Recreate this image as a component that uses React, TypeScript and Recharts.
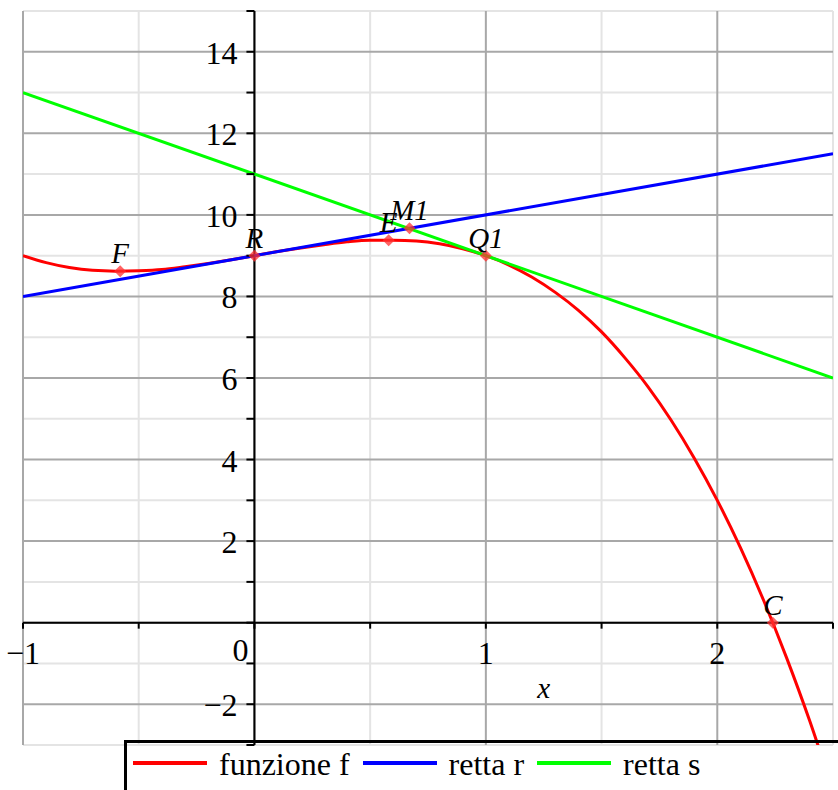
import React from 'react';
import { ComposedChart, Line, Scatter, XAxis, YAxis, ReferenceLine, ReferenceDot, LabelList } from 'recharts';

// funzione f
const curveX = [-1, -0.9, -0.8, -0.7, -0.6, -0.5, -0.4, -0.3, -0.2, -0.1, 0, 0.1, 0.2, 0.3, 0.4, 0.5, 0.6, 0.7, 0.8, 0.9, 1, 1.1, 1.2, 1.3, 1.4, 1.5, 1.6, 1.7, 1.8, 1.9, 2, 2.1, 2.2, 2.3, 2.4, 2.5];
const curveF = [9, 8.83, 8.71, 8.64, 8.62, 8.63, 8.66, 8.73, 8.81, 8.9, 9, 9.1, 9.19, 9.27, 9.34, 9.38, 9.38, 9.36, 9.29, 9.17, 9, 8.77, 8.47, 8.1, 7.66, 7.13, 6.5, 5.79, 4.97, 4.04, 3, 1.84, 0.55, -0.87, -2.42, -4.13];

// retta r and retta s (end points)
const rettaRX = [-1, 2.5];
const rettaRY = [8, 11.5];
const rettaSX = [-1, 2.5];
const rettaSY = [13, 6];

// marked points
const pointNames = ['F', 'R', 'E', 'M1', 'Q1', 'C'];
const pointX = [-0.58, 0, 0.58, 0.67, 1, 2.24];
const pointY = [8.62, 9, 9.38, 9.67, 9, 0];

// grid + ticks
const xMajor = [-1, 0, 1, 2];
const xMinor = [-0.5, 0.5, 1.5, 2.5];
const yMajor = [-2, 0, 2, 4, 6, 8, 10, 12, 14];
const yMinor = [-3, -1, 1, 3, 5, 7, 9, 11, 13, 15];
const xTickLabels = ['\u22121', '0', '1', '2'];
const yTickLabels = ['\u22122', '', '2', '4', '6', '8', '10', '12', '14'];

const seriesNames = ['funzione f', 'retta r', 'retta s'];
const seriesColors = ['#ff0000', '#0000ff', '#00ff00'];

const SERIF = "'Liberation Serif', 'DejaVu Serif', serif";

const curveData = curveX.map((x, i) => ({ x, y: curveF[i] }));
const rData = rettaRX.map((x, i) => ({ x, y: rettaRY[i] }));
const sData = rettaSX.map((x, i) => ({ x, y: rettaSY[i] }));
const pointData = pointX.map((x, i) => ({ x, y: pointY[i], name: pointNames[i] }));

const Diamond = (props: any) => {
  const { cx, cy } = props;
  if (cx == null || cy == null) return null;
  const s = 6;
  return (
    <polygon
      points={`${cx},${cy - s} ${cx + s},${cy} ${cx},${cy + s} ${cx - s},${cy}`}
      fill="#ff3030"
      fillOpacity={0.75}
    />
  );
};

const PointLabel = (props: any) => {
  const { x, y, width, height, value } = props;
  const cx = x + (width || 0) / 2;
  const cy = y + (height || 0) / 2;
  return (
    <text x={cx} y={cy - 8} textAnchor="middle" style={{ fontFamily: SERIF, fontStyle: 'italic', fontSize: 29 }} fill="#000">
      {value}
    </text>
  );
};

const yTickShape = (label: string) => (props: any) => {
  const { cx, cy } = props;
  return (
    <g>
      <line x1={cx - 8} x2={cx} y1={cy} y2={cy} stroke="#000" strokeWidth={2} />
      {label && (
        <text x={cx - 17} y={cy + 12} textAnchor="end" style={{ fontFamily: SERIF, fontSize: 32 }} fill="#000">
          {label}
        </text>
      )}
    </g>
  );
};

const xTickShape = (label: string, isZero: boolean) => (props: any) => {
  const { cx, cy } = props;
  return (
    <g>
      <line x1={cx} x2={cx} y1={cy} y2={cy + 6} stroke="#000" strokeWidth={2} />
      {label !== '' && (
        <text
          x={isZero ? cx - 14 : cx}
          y={isZero ? cy + 38 : cy + 41}
          textAnchor="middle"
          style={{ fontFamily: SERIF, fontSize: 32 }}
          fill="#000"
        >
          {label}
        </text>
      )}
    </g>
  );
};

const AxisTitle = (props: any) => {
  const { cx, cy } = props;
  return (
    <text x={cx} y={cy} textAnchor="middle" style={{ fontFamily: SERIF, fontStyle: 'italic', fontSize: 29 }} fill="#000">
      x
    </text>
  );
};

export default function App() {
  return (
    <div style={{ position: 'absolute', left: 0, top: 0, width: 838, height: 790, background: '#fff', fontFamily: SERIF }}>
      <ComposedChart width={838} height={790} margin={{ top: 11, right: 5, bottom: 45, left: 23 }}>
        <XAxis type="number" dataKey="x" domain={[-1, 2.5]} allowDataOverflow hide ticks={xMajor} />
        <YAxis type="number" dataKey="y" domain={[-3, 15]} allowDataOverflow hide ticks={yMajor} />

        {xMinor.map((v) => (
          <ReferenceLine key={`xm${v}`} x={v} stroke="#e4e4e4" strokeWidth={2} />
        ))}
        {yMinor.map((v) => (
          <ReferenceLine key={`ym${v}`} y={v} stroke="#e4e4e4" strokeWidth={2} />
        ))}
        {xMajor.map((v) => (
          <ReferenceLine key={`xM${v}`} x={v} stroke="#a8a8a8" strokeWidth={2} />
        ))}
        {yMajor.map((v) => (
          <ReferenceLine key={`yM${v}`} y={v} stroke="#a8a8a8" strokeWidth={2} />
        ))}

        <ReferenceLine x={0} stroke="#000" strokeWidth={2} />
        <ReferenceLine y={0} stroke="#000" strokeWidth={2} />

        {[...yMajor, ...yMinor].map((v) => {
          const idx = yMajor.indexOf(v);
          const label = idx >= 0 ? yTickLabels[idx] : '';
          return <ReferenceDot key={`yt${v}`} x={0} y={v} r={0} shape={yTickShape(label)} />;
        })}
        {[...xMajor, ...xMinor].map((v) => {
          const idx = xMajor.indexOf(v);
          const label = idx >= 0 ? xTickLabels[idx] : '';
          return <ReferenceDot key={`xt${v}`} x={v} y={0} r={0} shape={xTickShape(label, v === 0)} />;
        })}
        <ReferenceDot x={1.25} y={-1.85} r={0} shape={AxisTitle} />

        <Line data={curveData} dataKey="y" name={seriesNames[0]} type="monotone" stroke={seriesColors[0]} strokeWidth={3} dot={false} isAnimationActive={false} />
        <Line data={rData} dataKey="y" name={seriesNames[1]} type="linear" stroke={seriesColors[1]} strokeWidth={3} dot={false} isAnimationActive={false} />
        <Line data={sData} dataKey="y" name={seriesNames[2]} type="linear" stroke={seriesColors[2]} strokeWidth={3} dot={false} isAnimationActive={false} />

        <Scatter data={pointData} dataKey="y" shape={Diamond} legendType="none" isAnimationActive={false}>
          <LabelList dataKey="name" content={PointLabel} />
        </Scatter>
      </ComposedChart>

      <div
        style={{
          position: 'absolute',
          left: 124,
          top: 740,
          width: 714,
          height: 50,
          boxSizing: 'border-box',
          borderTop: '3px solid #000',
          borderLeft: '3px solid #000',
          display: 'flex',
          alignItems: 'flex-start',
          paddingLeft: 6,
        }}
      >
        {seriesNames.map((name, i) => (
          <div key={name} style={{ display: 'flex', alignItems: 'flex-start' }}>
            <div style={{ width: 74, height: 4, marginTop: 18, marginRight: 12, background: seriesColors[i] }} />
            <div style={{ fontFamily: SERIF, fontSize: 32, lineHeight: '32px', marginTop: 5, marginRight: 13, color: '#000', whiteSpace: 'nowrap' }}>
              {name}
            </div>
          </div>
        ))}
      </div>
    </div>
  );
}
